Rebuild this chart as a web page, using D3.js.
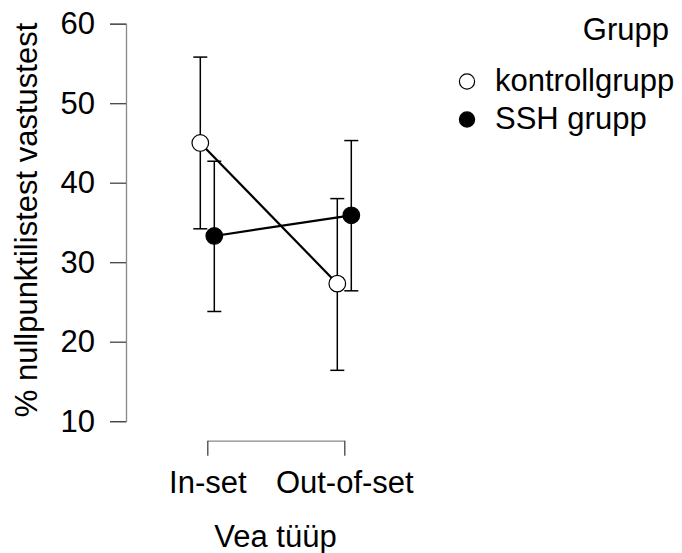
<!DOCTYPE html>
<html><head><meta charset="utf-8">
<script src="https://cdn.jsdelivr.net/npm/d3@7"></script>
<style>body{margin:0;background:#fff}text{font-family:"Liberation Sans",Arial,sans-serif;fill:#000}</style>
</head><body>
<svg id="c" width="682" height="553"></svg>
<script>
const categories = ["In-set", "Out-of-set"];
const groups = ["kontrollgrupp", "SSH grupp"];
const kontrollMean = [45.0, 27.3];
const kontrollLow = [34.2, 16.4];
const kontrollHigh = [55.8, 38.0];
const sshMean = [33.3, 35.9];
const sshLow = [23.8, 26.4];
const sshHigh = [42.7, 45.3];
const yTicks = [10, 20, 30, 40, 50, 60];

const FS = 31;
const series = [
  {name: groups[0], mean: kontrollMean, lo: kontrollLow, hi: kontrollHigh, fill: "#fff", off: -7},
  {name: groups[1], mean: sshMean, lo: sshLow, hi: sshHigh, fill: "#000", off: 7}
];

const svg = d3.select("#c");
const y = d3.scaleLinear().domain([10, 60]).range([421.2, 23.7]);
const x = d3.scalePoint().domain(categories).range([207.3, 344.3]);

// y axis
const ya = svg.append("g").attr("transform", "translate(126,0)")
  .call(d3.axisLeft(y).tickValues(yTicks).tickSize(16).tickPadding(15));
ya.attr("font-size", FS).attr("font-family", "Liberation Sans, Arial");
ya.select(".domain").attr("stroke", "#888").attr("stroke-width", 1.3);
ya.selectAll(".tick line").attr("stroke", "#444").attr("stroke-width", 1.3);
ya.selectAll(".tick text").attr("fill", "#000");

// x axis
const xa = svg.append("g").attr("transform", "translate(0,440.7)")
  .call(d3.axisBottom(x).tickSize(15).tickSizeOuter(0).tickPadding(15.3));
xa.attr("font-size", FS).attr("font-family", "Liberation Sans, Arial");
xa.select(".domain").attr("stroke", "#888").attr("stroke-width", 1.3);
xa.selectAll(".tick line").attr("stroke", "#444").attr("stroke-width", 1.3);
xa.selectAll(".tick text").attr("fill", "#000");

// axis titles
svg.append("text").attr("x", 275.5).attr("y", 546.5).attr("text-anchor", "middle")
  .attr("font-size", FS).text("Vea tüüp");
svg.append("text").attr("transform", "translate(36.5,220) rotate(-90)").attr("text-anchor", "middle")
  .attr("font-size", FS).text("% nullpunktilistest vastustest");

const px = (s, i) => x(categories[i]) + s.off;

// error bars
series.forEach(s => {
  const g = svg.append("g");
  categories.forEach((c, i) => {
    const cx = px(s, i);
    g.append("line").attr("x1", cx).attr("x2", cx).attr("y1", y(s.lo[i])).attr("y2", y(s.hi[i]))
      .attr("stroke", "#000").attr("stroke-width", 1.5);
    [s.lo[i], s.hi[i]].forEach(v => {
      g.append("line").attr("x1", cx - 7).attr("x2", cx + 7).attr("y1", y(v)).attr("y2", y(v))
        .attr("stroke", "#000").attr("stroke-width", 1.5);
    });
  });
});
// lines
series.forEach(s => {
  svg.append("path").datum(categories.map((c, i) => [px(s, i), y(s.mean[i])]))
    .attr("d", d3.line()).attr("fill", "none").attr("stroke", "#000").attr("stroke-width", 2.2);
});
// points
series.forEach(s => {
  categories.forEach((c, i) => {
    svg.append("circle").attr("cx", px(s, i)).attr("cy", y(s.mean[i])).attr("r", 8.3)
      .attr("fill", s.fill).attr("stroke", "#000").attr("stroke-width", 1.2);
  });
});

// legend
svg.append("text").attr("x", 669).attr("y", 39.5).attr("text-anchor", "end").attr("font-size", FS).text("Grupp");
series.forEach((s, i) => {
  const ly = 81.5 + i * 38;
  svg.append("circle").attr("cx", 467).attr("cy", ly).attr("r", 7.6)
    .attr("fill", s.fill).attr("stroke", "#000").attr("stroke-width", 1.2);
  svg.append("text").attr("x", 495).attr("y", ly + 9).attr("font-size", FS).text(s.name);
});
</script>
</body></html>
